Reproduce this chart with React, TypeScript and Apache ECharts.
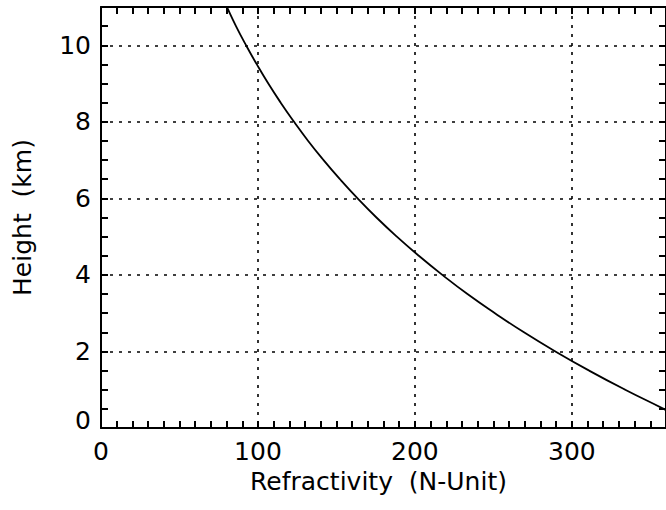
import React, { useEffect, useRef } from "react";
import * as echarts from "echarts";

// Height (km) vs refractivity (N-units)
const heights = [0.4, 0.5, 1, 1.5, 2, 2.5, 3, 3.5, 4, 4.5, 5, 5.5, 6, 6.5, 7, 7.5, 8, 8.5, 9, 9.5, 10, 10.5, 11, 11.2];
const refractivity = [363, 358.5, 334, 311, 289.5, 269.5, 251, 233.5, 217.5, 202.5, 188.5, 175.5, 163.5, 152.3, 141.8, 132, 123, 114.5, 106.6, 99.3, 92.4, 86, 80.2, 78];

const xTickLabels = [0, 100, 200, 300];
const yTickLabels = [0, 2, 4, 6, 8, 10];

const X_MIN = 0, X_MAX = 360, X_STEP = 100, X_MINOR = 10;
const Y_MIN = 0, Y_MAX = 11, Y_STEP = 2, Y_MINOR = 0.5;

const FONT = "DejaVu Sans";
const FS = 25;

export default function App() {
  const ref = useRef<HTMLDivElement>(null);
  useEffect(() => {
    if (!ref.current) return;
    const chart = echarts.init(ref.current, null, { renderer: "svg" });
    const black = "#000";
    const dotted = { color: black, width: 1.6, type: [3, 6] as any };
    const minorTickAxis = (pos: string, step: number, min: number, max: number, showLine: boolean) => ({
      type: "value",
      position: pos,
      min,
      max,
      interval: step,
      axisLine: { show: showLine, onZero: false, lineStyle: { color: black, width: 2 } },
      axisTick: { show: true, inside: true, length: 7, lineStyle: { color: black, width: 2 } },
      axisLabel: { show: false },
      splitLine: { show: false },
    });
    const data = heights.map((h, i) => [refractivity[i], h]);
    chart.setOption({
      animation: false,
      backgroundColor: "#fff",
      grid: { left: 101, right: -4, top: 7, bottom: 82, containLabel: false },
      xAxis: [
        {
          type: "value",
          position: "bottom",
          min: X_MIN,
          max: X_MAX,
          interval: X_STEP,
          name: "Refractivity  (N-Unit)",
          nameLocation: "middle",
          nameGap: 33,
          nameTextStyle: { fontFamily: FONT, fontSize: FS, color: black, padding: [0, 10, 0, 0] },
          axisLine: { show: true, onZero: false, lineStyle: { color: black, width: 2 } },
          axisTick: { show: false },
          axisLabel: {
            show: true,
            margin: 11,
            showMaxLabel: false,
            fontFamily: FONT,
            fontSize: FS,
            color: black,
            formatter: (v: number) => (xTickLabels.includes(v) ? String(v) : ""),
          },
          splitLine: { show: true, lineStyle: dotted },
        },
        minorTickAxis("bottom", X_MINOR, X_MIN, X_MAX, false),
        minorTickAxis("top", X_MINOR, X_MIN, X_MAX, true),
      ],
      yAxis: [
        {
          type: "value",
          position: "left",
          min: Y_MIN,
          max: Y_MAX,
          interval: Y_STEP,
          name: "Height  (km)",
          nameLocation: "middle",
          nameGap: 66,
          nameTextStyle: { fontFamily: FONT, fontSize: FS, color: black },
          axisLine: { show: true, onZero: false, lineStyle: { color: black, width: 2 } },
          axisTick: { show: false },
          axisLabel: {
            show: true,
            margin: 10,
            showMaxLabel: false,
            fontFamily: FONT,
            fontSize: FS,
            color: black,
            formatter: (v: number) =>
              yTickLabels.includes(v) ? (v === 0 ? "{z|0}" : String(v)) : "",
            rich: { z: { fontFamily: FONT, fontSize: FS, color: black, padding: [0, 0, 16, 0] } },
          },
          splitLine: { show: true, lineStyle: dotted },
        },
        minorTickAxis("left", Y_MINOR, Y_MIN, Y_MAX, false),
        minorTickAxis("right", Y_MINOR, Y_MIN, Y_MAX, true),
      ],
      series: [
        {
          type: "line",
          xAxisIndex: 0,
          yAxisIndex: 0,
          data,
          smooth: true,
          showSymbol: false,
          clip: true,
          lineStyle: { color: black, width: 1.8 },
        },
      ],
    });
    return () => chart.dispose();
  }, []);
  return (
    <div
      ref={ref}
      style={{ position: "fixed", left: 0, top: 0, width: 666, height: 510, background: "#fff" }}
    />
  );
}
